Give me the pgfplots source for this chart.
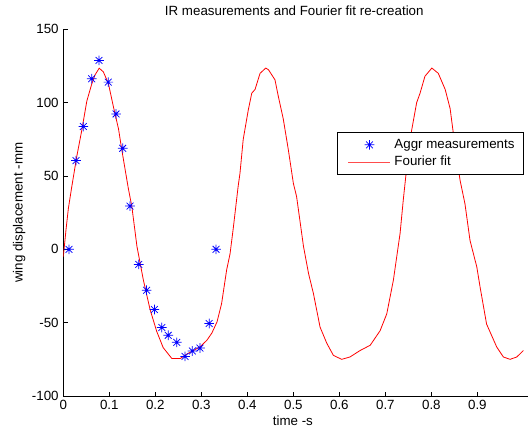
\documentclass[border=0pt]{standalone}
\usepackage{pgfplots}
\pgfplotsset{compat=1.18}
\usepackage{fontspec}
\setmainfont{Liberation Sans}
\pgfdeclareplotmark{mstar}{%
  \pgfpathmoveto{\pgfqpoint{-\pgfplotmarksize}{0pt}}\pgfpathlineto{\pgfqpoint{\pgfplotmarksize}{0pt}}%
  \pgfpathmoveto{\pgfqpoint{0pt}{-\pgfplotmarksize}}\pgfpathlineto{\pgfqpoint{0pt}{\pgfplotmarksize}}%
  \pgfpathmoveto{\pgfqpoint{-0.707\pgfplotmarksize}{-0.707\pgfplotmarksize}}\pgfpathlineto{\pgfqpoint{0.707\pgfplotmarksize}{0.707\pgfplotmarksize}}%
  \pgfpathmoveto{\pgfqpoint{-0.707\pgfplotmarksize}{0.707\pgfplotmarksize}}\pgfpathlineto{\pgfqpoint{0.707\pgfplotmarksize}{-0.707\pgfplotmarksize}}%
  \pgfusepathqstroke}
\begin{document}
\begin{tikzpicture}
\useasboundingbox (-47.5pt,-29.25pt) rectangle (348.5pt,297pt);
\begin{axis}[
  at={(0pt,0pt)}, anchor=south west,
  scale only axis, width=348.5pt, height=275pt,
  xmin=0, xmax=1.01, ymin=-100, ymax=150,
  axis lines*=left,
  axis line style={-, line width=0.6pt, black},
  tick align=inside,
  major tick length=3.2pt,
  tick style={black, line width=0.5pt},
  xtick={0,0.1,0.2,0.3,0.4,0.5,0.6,0.7,0.8,0.9},
  xticklabels={0,0.1,0.2,0.3,0.4,0.5,0.6,0.7,0.8,0.9},
  ytick={-100,-50,0,50,100,150},
  /pgf/number format/assume math mode=true,
  scaled x ticks=false,
  tick label style={font=\fontsize{10}{12}\selectfont},
  xticklabel style={yshift=0.5pt},
  title={IR measurements and Fourier fit re-creation},
  title style={at={(axis description cs:0.497,1)}, anchor=base, yshift=4.5pt, font=\fontsize{10}{12}\selectfont},
  xlabel={time -s},
  xlabel style={at={(axis description cs:0.494,0)}, anchor=base, yshift=-22pt, font=\fontsize{10}{12}\selectfont},
  ylabel={wing displacement -mm},
  ylabel style={at={(axis description cs:-0.0874,0.5)}, anchor=base, rotate=0, font=\fontsize{10}{12}\selectfont},
  legend style={at={(0.9899,0.7191)}, anchor=north east, draw=black, line width=0.6pt,
    inner xsep=3.8pt, inner ysep=2.6pt, row sep=0pt,
    nodes={inner xsep=2.5pt, inner ysep=1.5pt, text height=7.5pt, text depth=2.5pt, font=\fontsize{10}{12}\selectfont}},
  legend cell align=left,
]
\addplot[only marks, draw=blue, fill=blue, mark=mstar, mark size=3.6pt, mark options={line width=0.55pt, draw=blue},
  legend image code/.code={\path (0pt,0pt) (35.5pt,0pt); \draw[mark=mstar, mark size=3.6pt, line width=0.55pt, blue] plot coordinates {(19.75pt,0pt)};}] coordinates {
(0.0124,0) (0.0276,60.5) (0.0435,83.7) (0.0617,116.3) (0.0776,128.8)
(0.0978,114) (0.1146,92.3) (0.1291,68.9) (0.145,29.5) (0.164,-10.3)
(0.181,-27.9) (0.198,-41) (0.214,-53.3) (0.228,-58.6) (0.2465,-63.4)
(0.2646,-73) (0.2804,-69.3) (0.297,-67.3) (0.317,-50.6) (0.332,0)
};
\addlegendentry{Aggr measurements}
\addplot[draw=red, line width=0.6pt,
  legend image code/.code={\path (0pt,0pt); \draw[draw=red!70, line width=1pt] (4pt,0pt) -- (35.5pt,0pt);}] coordinates {
(0.000,-5) (0.006,14) (0.011,28) (0.018,42) (0.029,63) (0.040,81) (0.051,101)
(0.062,113) (0.069,119) (0.078,123.5) (0.087,121) (0.098,113) (0.109,97)
(0.120,82) (0.127,68) (0.141,42) (0.149,29) (0.160,2) (0.174,-21)
(0.1885,-41) (0.203,-56) (0.217,-67) (0.236,-74.5) (0.254,-74.5)
(0.268,-71.5) (0.283,-69) (0.297,-66.5) (0.312,-62) (0.323,-57)
(0.334,-49.5) (0.344,-37) (0.355,-14) (0.3624,-3) (0.3696,15)
(0.380,43) (0.384,52) (0.391,75) (0.402,95) (0.4096,106.5) (0.4167,109)
(0.4276,120) (0.440,123.6) (0.446,122.4) (0.460,115.6) (0.4675,104)
(0.478,89) (0.489,68) (0.500,45) (0.507,36) (0.522,2) (0.533,-16.5)
(0.5435,-30) (0.558,-53) (0.5726,-64) (0.587,-72.3) (0.605,-75)
(0.623,-73.4) (0.645,-69) (0.667,-65.4) (0.6885,-55.5) (0.703,-44)
(0.7174,-21) (0.732,11) (0.739,34) (0.7465,56) (0.757,81) (0.768,100)
(0.7754,106.5) (0.786,118) (0.801,123.6) (0.815,120) (0.830,109)
(0.8407,96) (0.8515,70) (0.8624,47) (0.873,31) (0.884,6) (0.8987,-12)
(0.906,-26) (0.920,-51) (0.942,-66.6) (0.9565,-73.4) (0.971,-75)
(0.9856,-73.4) (1.000,-69)
};
\addlegendentry{Fourier fit}
\end{axis}
\end{tikzpicture}
\end{document}
